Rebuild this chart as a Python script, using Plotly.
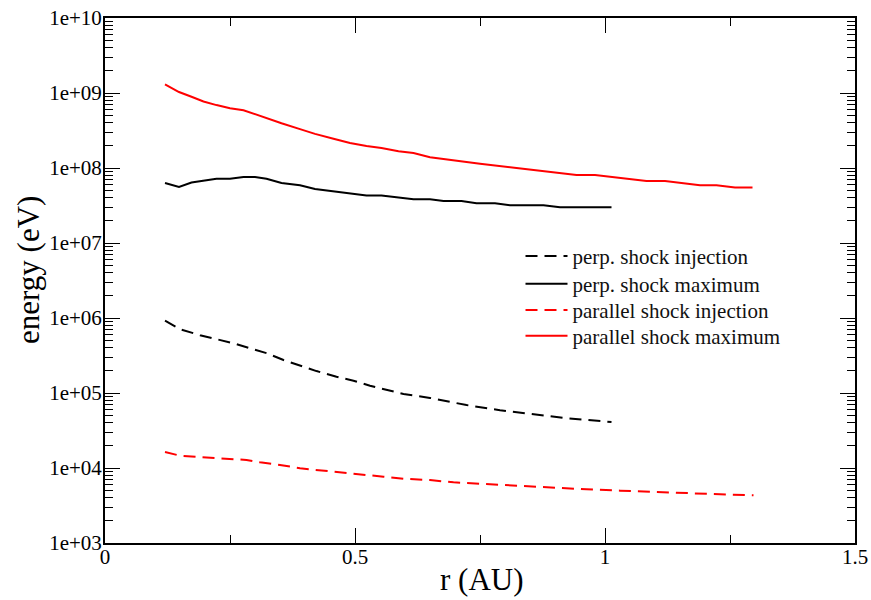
import plotly.graph_objects as go

# 색상 / 폰트
BLACK = "#000000"
RED = "#ff0000"
FONT = "Liberation Serif"

# perp. shock injection
r_perp_inj = [0.12, 0.15, 0.19, 0.223, 0.257, 0.29, 0.323, 0.357, 0.39, 0.423, 0.463,
              0.497, 0.53, 0.563, 0.597, 0.65, 0.723, 0.79, 0.857, 0.923, 1.013]
e_perp_inj = [9.2e5, 7.1e5, 5.9e5, 5.2e5, 4.6e5, 3.95e5, 3.4e5, 2.75e5, 2.3e5, 1.96e5, 1.65e5,
              1.46e5, 1.25e5, 1.1e5, 9.7e4, 8.6e4, 6.9e4, 5.9e4, 5.2e4, 4.6e4, 4.1e4]

# perp. shock maximum
r_perp_max = [0.12, 0.148, 0.173, 0.197, 0.223, 0.25, 0.277, 0.30, 0.323, 0.353, 0.39, 0.42,
              0.457, 0.49, 0.523, 0.553, 0.587, 0.617, 0.65, 0.677, 0.713, 0.743, 0.78, 0.81,
              0.877, 0.91, 1.013]
e_perp_max = [6.3e7, 5.6e7, 6.4e7, 6.8e7, 7.2e7, 7.2e7, 7.6e7, 7.6e7, 7.2e7, 6.3e7, 5.9e7, 5.25e7,
              4.85e7, 4.55e7, 4.3e7, 4.3e7, 4.07e7, 3.82e7, 3.82e7, 3.63e7, 3.63e7, 3.38e7, 3.38e7,
              3.18e7, 3.18e7, 2.99e7, 2.99e7]

# parallel shock injection
r_par_inj = [0.12, 0.15, 0.19, 0.223, 0.257, 0.283, 0.31, 0.35, 0.39, 0.423, 0.457, 0.49, 0.523,
             0.557, 0.597, 0.65, 0.697, 0.763, 0.83, 0.897, 0.963, 1.03, 1.097, 1.163, 1.23, 1.297]
e_par_inj = [1.63e4, 1.46e4, 1.40e4, 1.35e4, 1.31e4, 1.28e4, 1.19e4, 1.10e4, 9.9e3, 9.4e3, 8.85e3,
             8.4e3, 7.9e3, 7.65e3, 7.2e3, 6.9e3, 6.45e3, 6.1e3, 5.75e3, 5.47e3, 5.2e3, 4.99e3,
             4.79e3, 4.59e3, 4.46e3, 4.33e3]

# parallel shock maximum
r_par_max = [0.12, 0.148, 0.173, 0.197, 0.223, 0.25, 0.277, 0.30, 0.323, 0.353, 0.39, 0.42, 0.457,
             0.49, 0.523, 0.553, 0.587, 0.617, 0.65, 0.69, 0.75, 0.823, 0.897, 0.943, 0.98, 1.017,
             1.083, 1.12, 1.19, 1.223, 1.26, 1.295]
e_par_max = [1.3e9, 1.03e9, 8.9e8, 7.7e8, 6.9e8, 6.25e8, 5.9e8, 5.2e8, 4.65e8, 3.95e8, 3.3e8,
             2.85e8, 2.45e8, 2.15e8, 1.96e8, 1.85e8, 1.67e8, 1.58e8, 1.39e8, 1.28e8, 1.14e8, 1.0e8,
             8.75e7, 8.07e7, 8.07e7, 7.5e7, 6.7e7, 6.7e7, 5.9e7, 5.9e7, 5.5e7, 5.5e7]

# 축 눈금
x_ticks = [0, 0.5, 1, 1.5]
x_ticktext = ["0", "0.5", "1", "1.5"]
x_minor = [0.25, 0.75, 1.25]
y_ticks = [1e3, 1e4, 1e5, 1e6, 1e7, 1e8, 1e9, 1e10]
y_ticktext = ["1e+03", "1e+04", "1e+05", "1e+06", "1e+07", "1e+08", "1e+09", "1e+10"]
y_minor = [m * 10 ** p for p in range(3, 10) for m in range(2, 10)]

series = [
    ("perp. shock injection", r_perp_inj, e_perp_inj, BLACK, "12px,7px"),
    ("perp. shock maximum", r_perp_max, e_perp_max, BLACK, "solid"),
    ("parallel shock injection", r_par_inj, e_par_inj, RED, "12px,7px"),
    ("parallel shock maximum", r_par_max, e_par_max, RED, "solid"),
]
# 범례 한 줄씩 따로 배치 (줄 간격 맞추기)
legend_ids = ["legend", "legend2", "legend3", "legend4"]
legend_y = [0.546, 0.493, 0.443, 0.394]

fig = go.Figure()
for (name, xs, ys, color, dash), lid in zip(series, legend_ids):
    fig.add_trace(
        go.Scatter(
            x=xs,
            y=ys,
            mode="lines",
            name=name,
            legend=lid,
            line=dict(color=color, width=2, dash=dash),
        )
    )

legend_style = dict(
    x=0.554,
    xanchor="left",
    yanchor="middle",
    itemwidth=42,
    bgcolor="rgba(0,0,0,0)",
    font=dict(family=FONT, size=21, color="#111111"),
)

fig.update_layout(
    width=871,
    height=600,
    template="simple_white",
    paper_bgcolor="white",
    plot_bgcolor="white",
    font=dict(family=FONT, size=21, color="black"),
    margin=dict(l=105, r=16, t=18, b=57, autoexpand=False),
    showlegend=True,
    **{lid: dict(legend_style, y=ly) for lid, ly in zip(legend_ids, legend_y)},
    annotations=[
        dict(text="r (AU)", x=0.502, y=-0.07, xref="paper", yref="paper",
             xanchor="center", yanchor="middle", showarrow=False,
             font=dict(family=FONT, size=31, color="black")),
        dict(text="energy (eV)", x=-0.1027, y=0.52, xref="paper", yref="paper",
             xanchor="center", yanchor="middle", showarrow=False, textangle=-90,
             font=dict(family=FONT, size=31, color="black")),
    ],
)

fig.update_xaxes(
    range=[0, 1.5],
    automargin=False,
    tickmode="array",
    tickvals=x_ticks,
    ticktext=x_ticktext,
    ticks="inside",
    ticklen=15,
    tickwidth=1,
    tickcolor="black",
    minor=dict(tickmode="array", tickvals=x_minor, ticks="inside", ticklen=8,
               tickcolor="black", tickwidth=1),
    showline=True,
    linecolor="black",
    linewidth=2,
    mirror="allticks",
    showgrid=False,
    zeroline=False,
    tickfont=dict(family=FONT, size=21),
    ticklabelstandoff=-6,
    ticklabeloverflow="allow",
)
fig.update_yaxes(
    type="log",
    range=[3, 10],
    automargin=False,
    tickmode="array",
    tickvals=y_ticks,
    ticktext=y_ticktext,
    ticks="inside",
    ticklen=15,
    tickwidth=1,
    tickcolor="black",
    minor=dict(tickmode="array", tickvals=y_minor, ticks="inside", ticklen=8,
               tickcolor="black", tickwidth=1),
    showline=True,
    linecolor="black",
    linewidth=2,
    mirror="allticks",
    showgrid=False,
    zeroline=False,
    tickfont=dict(family=FONT, size=21),
    ticklabelstandoff=-3,
    ticklabeloverflow="allow",
)

# body 기본 margin(8px) 제거 -> 스크롤바 없이 871x600 에 딱 맞춤
fig.write_html(
    "out.html",
    config={"displayModeBar": False},
    post_script="document.body.style.margin='0px';",
)
